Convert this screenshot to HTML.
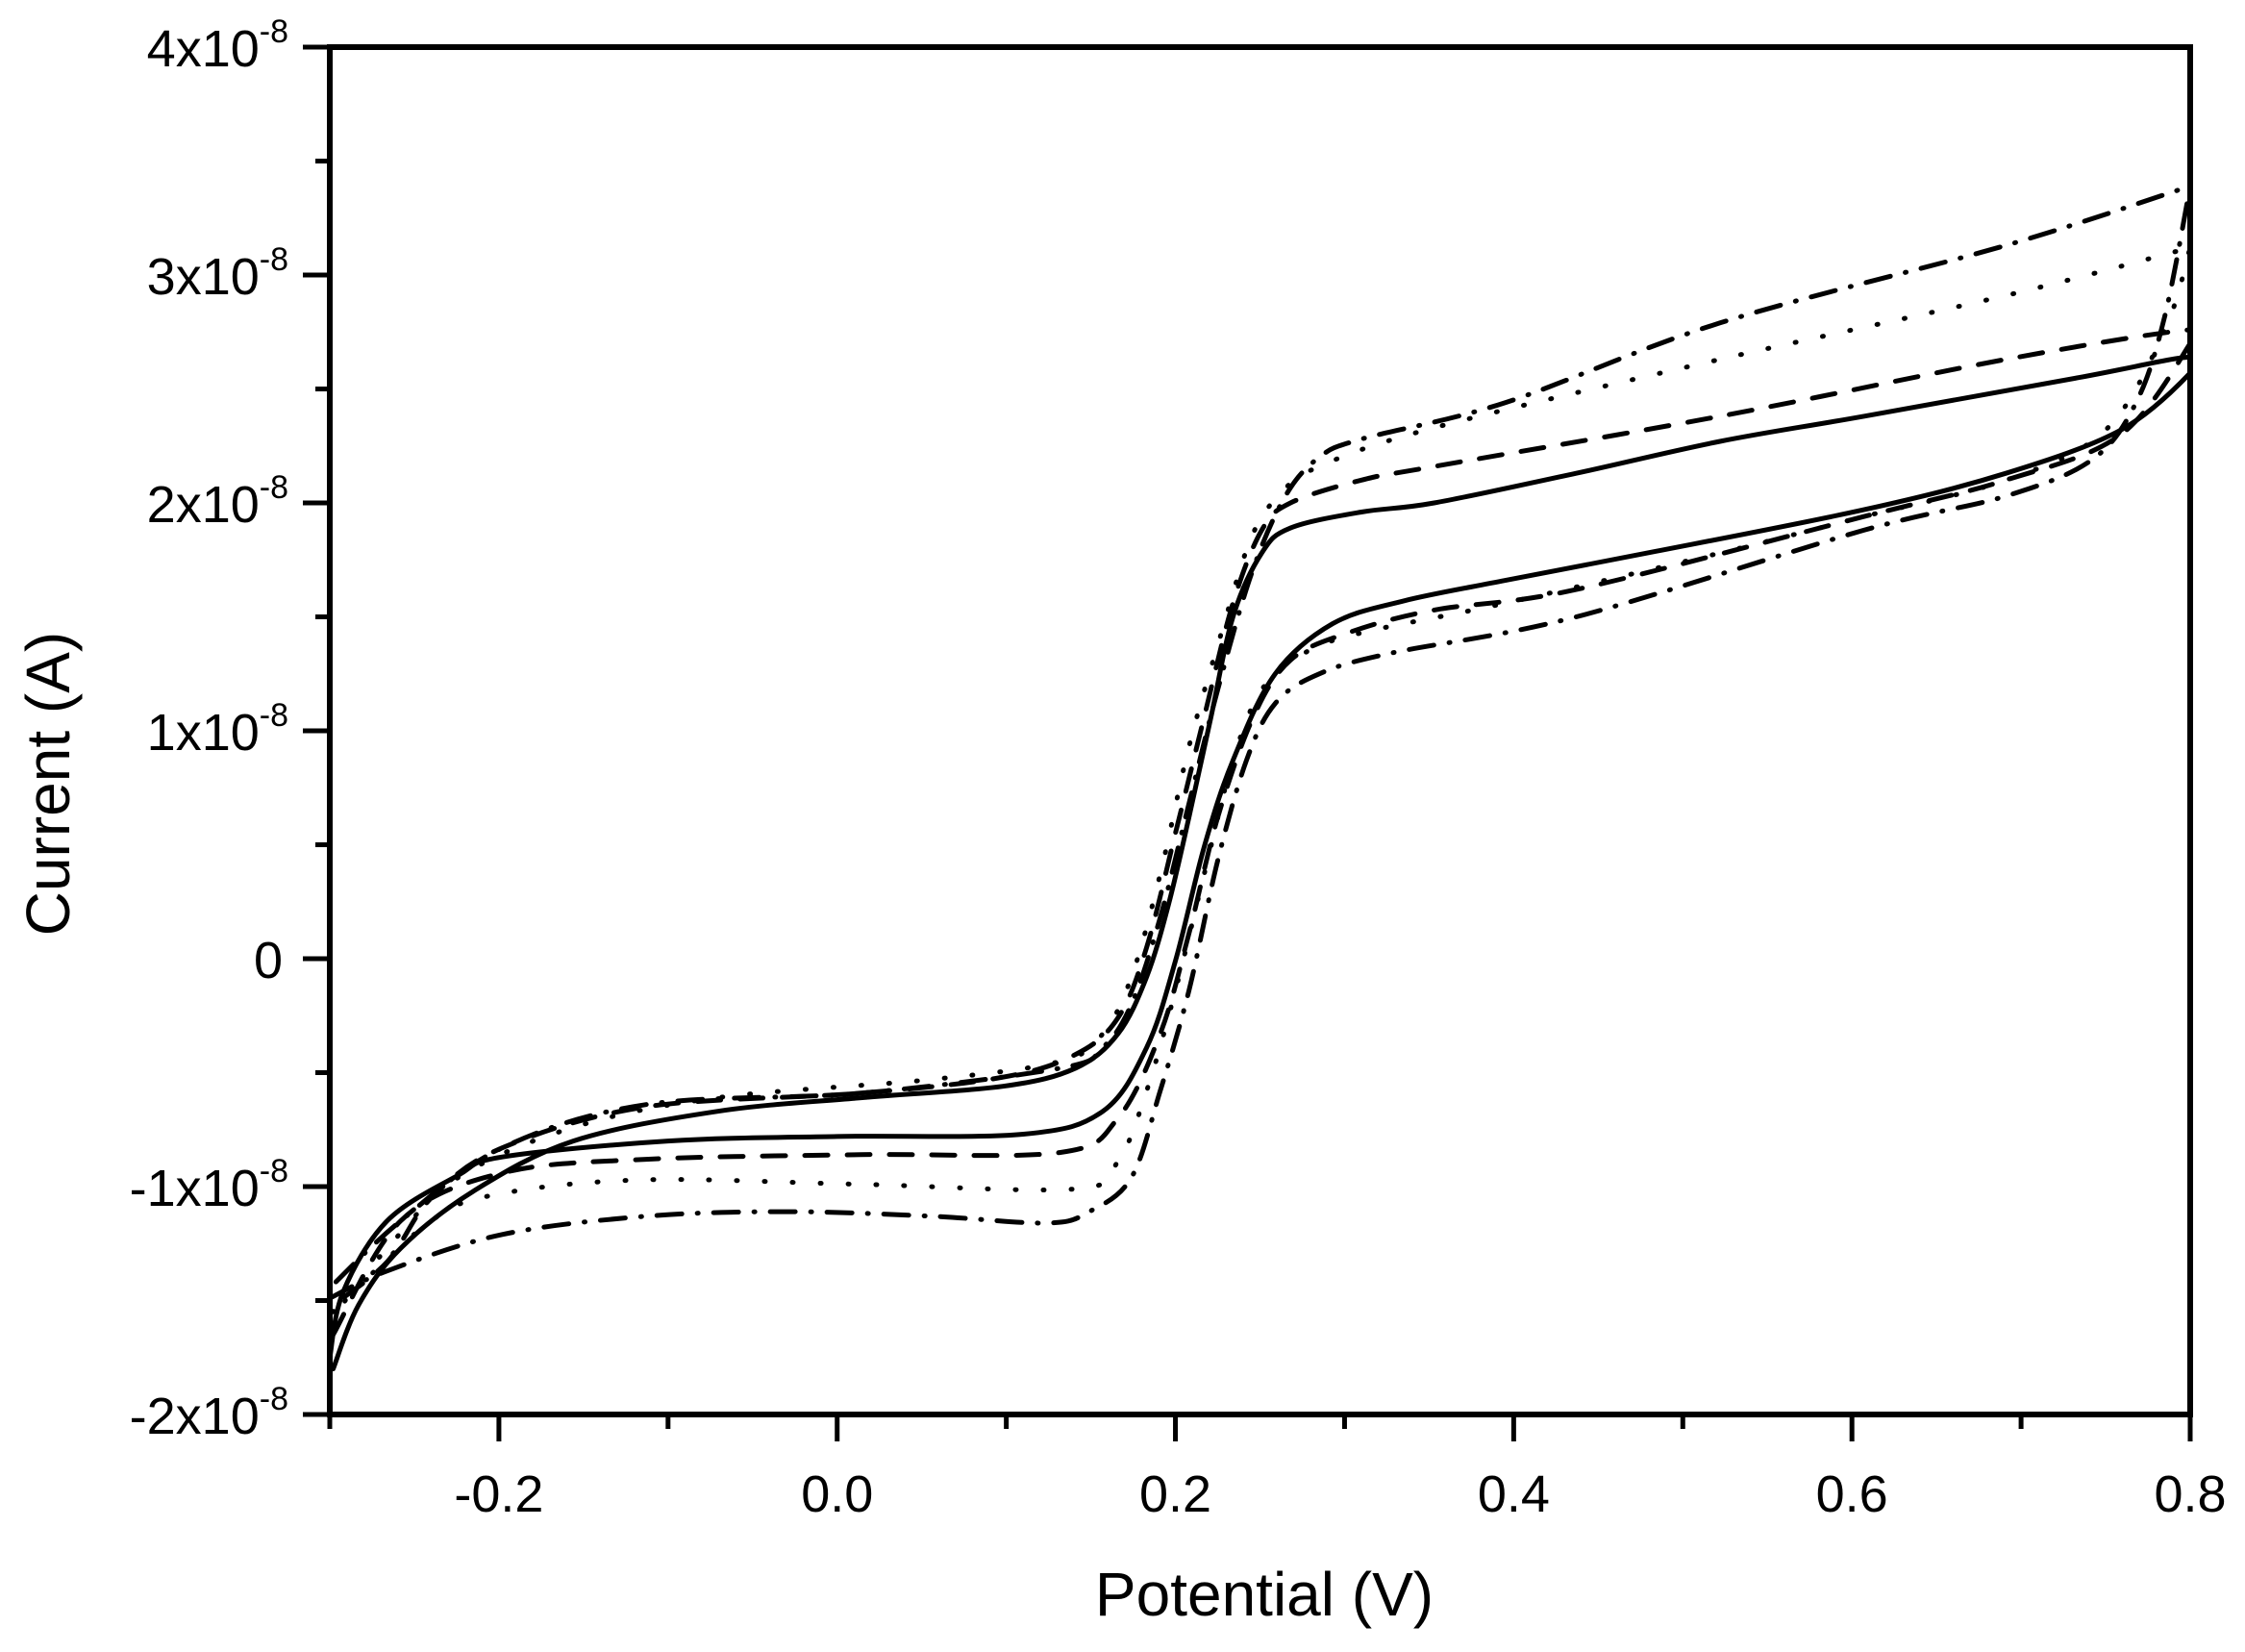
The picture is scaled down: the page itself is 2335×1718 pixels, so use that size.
<!DOCTYPE html>
<html><head><meta charset="utf-8"><style>
body{margin:0;background:#fff;}
svg text{font-family:"Liberation Sans",Arial,sans-serif;fill:#000;}
</style></head><body>
<svg id="chart" width="2335" height="1713" viewBox="0 0 2335 1713" xmlns="http://www.w3.org/2000/svg">
<defs><clipPath id="plotclip"><rect x="343" y="49" width="1935" height="1422"/></clipPath></defs>
<g id="axes"></g><g id="series" clip-path="url(#plotclip)"></g>
<text x="1315" y="1680" font-size="64" text-anchor="middle">Potential (V)</text>
<text transform="translate(72,815) rotate(-90)" font-size="64" text-anchor="middle">Current (A)</text>
</svg>
<script>
// Data (potential in V, current in units of 1e-8 A)
const xTicks = [-0.2, 0.0, 0.2, 0.4, 0.6, 0.8];
const xTickLabels = ["-0.2", "0.0", "0.2", "0.4", "0.6", "0.8"];
const yTicks = [-2, -1, 0, 1, 2, 3, 4];
const yTickLabels = ["-2x10", "-1x10", "0", "1x10", "2x10", "3x10", "4x10"];

const solidFwdV = [-0.3,-0.292,-0.266,-0.224,-0.198,-0.1,0.0,0.11,0.157,0.183,0.2,0.217,0.234,0.259,0.293,0.335,0.395,0.479,0.607,0.691,0.759,0.8];
const solidFwdI = [-1.75,-1.46,-1.15,-0.95,-0.87,-0.8,-0.78,-0.77,-0.67,-0.39,-0.01,0.49,0.87,1.25,1.47,1.57,1.66,1.78,1.97,2.13,2.32,2.57];
const solidRevV = [0.8,0.734,0.607,0.522,0.437,0.353,0.31,0.268,0.251,0.234,0.221,0.208,0.196,0.183,0.166,0.141,0.098,0.014,-0.071,-0.156,-0.215,-0.258,-0.283,-0.298];
const solidRevI = [2.64,2.55,2.38,2.27,2.13,2.0,1.96,1.89,1.78,1.5,1.06,0.62,0.24,-0.08,-0.33,-0.48,-0.56,-0.61,-0.67,-0.8,-1.02,-1.27,-1.52,-1.8];

const dashFwdV = [-0.298,-0.258,-0.198,-0.113,0.014,0.132,0.166,0.191,0.208,0.225,0.246,0.268,0.302,0.353,0.437,0.607,0.691,0.759,0.8];
const dashFwdI = [-1.65,-1.15,-0.94,-0.88,-0.86,-0.85,-0.7,-0.33,0.11,0.62,1.06,1.31,1.43,1.53,1.62,1.94,2.1,2.3,2.7];
const dashRevV = [0.8,0.691,0.522,0.353,0.31,0.268,0.251,0.234,0.217,0.2,0.183,0.166,0.141,0.098,0.014,-0.113,-0.198,-0.24,-0.266,-0.298];
const dashRevI = [2.76,2.63,2.38,2.16,2.1,2.0,1.88,1.56,1.06,0.55,0.05,-0.26,-0.42,-0.52,-0.59,-0.65,-0.83,-1.05,-1.33,-1.52];

const dotFwdV = [-0.298,-0.24,-0.198,-0.113,0.014,0.141,0.166,0.183,0.2,0.217,0.234,0.251,0.276,0.31,0.395,0.522,0.607,0.691,0.75,0.785,0.8];
const dotFwdI = [-1.55,-1.15,-1.03,-0.97,-0.99,-1.01,-0.89,-0.58,-0.14,0.37,0.87,1.18,1.34,1.43,1.56,1.78,1.94,2.1,2.32,2.76,3.12];
const dotRevV = [0.8,0.691,0.522,0.353,0.285,0.262,0.245,0.228,0.208,0.191,0.174,0.157,0.132,0.056,-0.071,-0.156,-0.224,-0.266,-0.296];
const dotRevI = [3.12,2.91,2.63,2.33,2.16,2.04,1.85,1.45,0.93,0.37,-0.08,-0.33,-0.45,-0.53,-0.61,-0.74,-0.96,-1.27,-1.55];

const dashDotFwdV = [-0.3,-0.266,-0.198,-0.113,-0.029,0.056,0.124,0.149,0.174,0.191,0.208,0.225,0.242,0.259,0.285,0.327,0.437,0.607,0.691,0.742,0.768,0.785,0.8];
const dashDotFwdI = [-1.49,-1.37,-1.21,-1.13,-1.11,-1.13,-1.16,-1.11,-0.96,-0.58,-0.14,0.43,0.87,1.12,1.25,1.34,1.5,1.88,2.03,2.19,2.44,2.82,3.39];
const dashDotRevV = [0.8,0.691,0.522,0.395,0.31,0.285,0.265,0.245,0.225,0.208,0.191,0.174,0.157,0.132,0.014,-0.113,-0.198,-0.258,-0.298];
const dashDotRevI = [3.39,3.13,2.79,2.44,2.28,2.2,2.03,1.69,1.18,0.68,0.18,-0.2,-0.39,-0.48,-0.59,-0.64,-0.83,-1.15,-1.43];

const NS = "http://www.w3.org/2000/svg";
const L = 343, R = 2278, T = 49, B = 1471;
const xMin = -0.3, xMax = 0.8, yMin = -2, yMax = 4;
function sx(v){ return L + (v - xMin) / (xMax - xMin) * (R - L); }
function sy(v){ return B - (v - yMin) / (yMax - yMin) * (B - T); }
function mk(tag, attrs, parent){ const e = document.createElementNS(NS, tag); for (const k in attrs) e.setAttribute(k, attrs[k]); parent.appendChild(e); return e; }

const axes = document.getElementById('axes');
const frame = mk('rect', {x:L, y:T, width:R-L, height:B-T, fill:'none', stroke:'#000', 'stroke-width':6}, axes);



for (let i = 0; i <= 11; i++) {
  const v = xMin + i * 0.1;
  const major = (i % 2 === 1);
  const t = mk('line', {x1:sx(v), x2:sx(v), y1:B, y2:B + (major ? 28 : 15), stroke:'#000', 'stroke-width':5}, axes);
  
  
}
xTicks.forEach((v, i) => {
  const t = mk('text', {x:sx(v), y:1572, 'font-size':54, 'text-anchor':'middle'}, axes);
  t.textContent = xTickLabels[i];
  
  
});
for (let i = 0; i <= 12; i++) {
  const v = yMin + i * 0.5;
  const major = (i % 2 === 0);
  const t = mk('line', {x1:L - (major ? 28 : 15), x2:L, y1:sy(v), y2:sy(v), stroke:'#000', 'stroke-width':5}, axes);
  
  
}
yTicks.forEach((v, i) => {
  const t = mk('text', {x:300, y:sy(v) + 20, 'font-size':54, 'text-anchor':'end'}, axes);
  
  
  if (v === 0) { t.textContent = yTickLabels[i]; t.setAttribute('x', 294); }
  else {
    const a = document.createElementNS(NS, 'tspan'); a.textContent = yTickLabels[i]; t.appendChild(a);
    const b = document.createElementNS(NS, 'tspan'); b.textContent = '-8'; b.setAttribute('font-size', 34); b.setAttribute('dy', -25); t.appendChild(b);
  }
});

const series = document.getElementById('series');
function drawLoop(fv, fi, rv, ri, dash, name) {
  const pts = [];
  fv.forEach((v, k) => pts.push([sx(v), sy(fi[k])]));
  rv.forEach((v, k) => pts.push([sx(v), sy(ri[k])]));
  let d = 'M' + pts[0][0].toFixed(1) + ' ' + pts[0][1].toFixed(1);
  for (let k = 0; k < pts.length - 1; k++) {
    const p0 = pts[Math.max(0, k - 1)], p1 = pts[k], p2 = pts[k + 1], p3 = pts[Math.min(pts.length - 1, k + 2)];
    const c1x = p1[0] + (p2[0] - p0[0]) / 6, c1y = p1[1] + (p2[1] - p0[1]) / 6;
    const c2x = p2[0] - (p3[0] - p1[0]) / 6, c2y = p2[1] - (p3[1] - p1[1]) / 6;
    d += ' C' + c1x.toFixed(1) + ' ' + c1y.toFixed(1) + ' ' + c2x.toFixed(1) + ' ' + c2y.toFixed(1) + ' ' + p2[0].toFixed(1) + ' ' + p2[1].toFixed(1);
  }
  const p = mk('path', {d:d, fill:'none', stroke:'#000', 'stroke-width':5, 'stroke-linejoin':'round', 'stroke-linecap':'round'}, series);
  if (dash) p.setAttribute('stroke-dasharray', dash);
  
  
}
drawLoop(solidFwdV, solidFwdI, solidRevV, solidRevI, null, 'series-solid');
drawLoop(dashFwdV, dashFwdI, dashRevV, dashRevI, '24 20', 'series-dashed');
drawLoop(dotFwdV, dotFwdI, dotRevV, dotRevI, '1 28', 'series-dotted');
drawLoop(dashDotFwdV, dashDotFwdI, dashDotRevV, dashDotRevI, '26 16 1 16', 'series-dash-dot');
</script>
</body></html>
